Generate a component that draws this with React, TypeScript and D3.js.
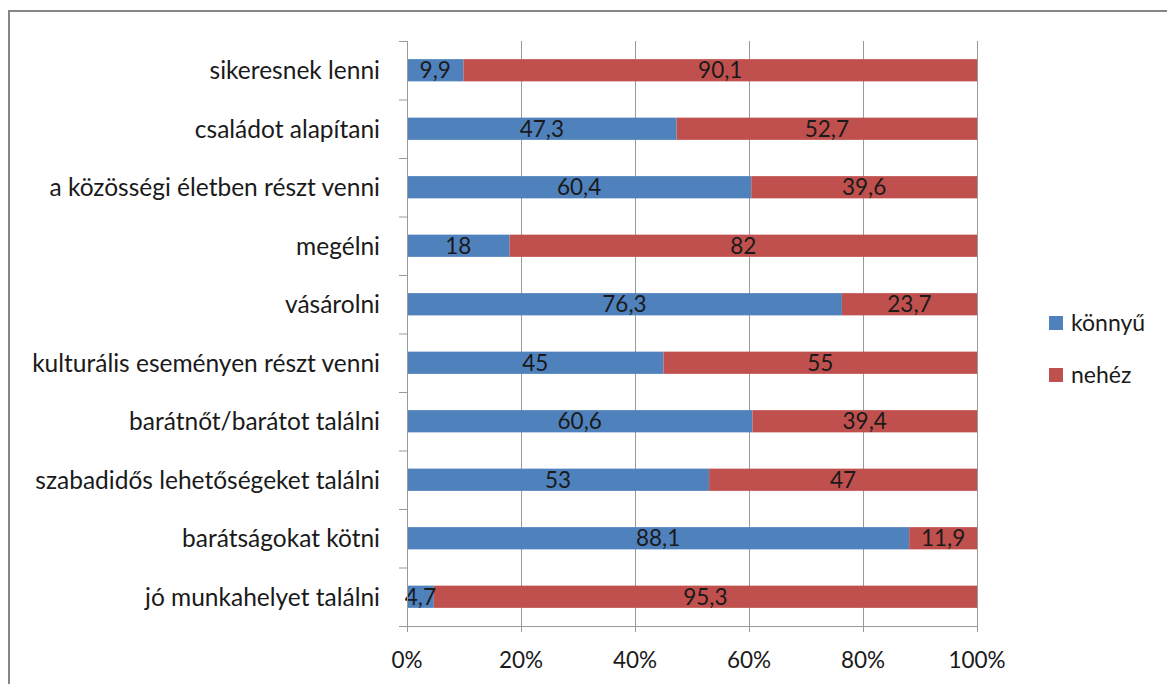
import React from "react";
import * as d3 from "d3";

const categories = [
  "sikeresnek lenni",
  "családot alapítani",
  "a közösségi életben részt venni",
  "megélni",
  "vásárolni",
  "kulturális eseményen részt venni",
  "barátnőt/barátot találni",
  "szabadidős lehetőségeket találni",
  "barátságokat kötni",
  "jó munkahelyet találni",
];
const konnyu = [9.9, 47.3, 60.4, 18, 76.3, 45, 60.6, 53, 88.1, 4.7];
const nehez = [90.1, 52.7, 39.6, 82, 23.7, 55, 39.4, 47, 11.9, 95.3];
const seriesNames = ["könnyű", "nehéz"];
const seriesColors = ["#4F81BD", "#C0504D"];
const xTicks = [0, 20, 40, 60, 80, 100];

const FONT = "Lato, 'Open Sans', sans-serif";

export default function App() {
  const W = 1167, H = 684;
  const left = 407, right = 977, top = 41, bottom = 626;
  const x = d3.scaleLinear().domain([0, 100]).range([left, right]);
  const y = d3.scaleBand<string>().domain(categories).range([top, bottom]).paddingInner(0.62).paddingOuter(0.31);
  const yb = d3.scaleBand<string>().domain(categories).range([top, bottom]);
  const fmt = (v: number) => String(v).replace(".", ",");
  const gridColor = "#9a9a9a";
  const textColor = "#1a1a1a";
  return (
    <svg width={W} height={H} style={{ position: "absolute", left: 0, top: 0 }}>
      <rect x={0} y={0} width={W} height={H} fill="#fff" />
      <rect x={9} y={11} width={W + 20} height={H + 20} fill="#fff" stroke="#868686" strokeWidth={2} />
      {xTicks.map((t) => (
        <line key={"g" + t} x1={x(t) + 0.5} x2={x(t) + 0.5} y1={top} y2={bottom + 6} stroke={gridColor} strokeWidth={1} />
      ))}
      {categories.map((c) => (
        <line key={"yt" + c} x1={left - 8} x2={left} y1={yb(c)! + 0.5} y2={yb(c)! + 0.5} stroke={gridColor} />
      ))}
      <line x1={left - 8} x2={right} y1={bottom + 0.5} y2={bottom + 0.5} stroke={gridColor} />
      {categories.map((c, i) => {
        const yy = y(c)!;
        const h = y.bandwidth();
        const a = konnyu[i], b = nehez[i];
        return (
          <g key={"b" + c}>
            <rect x={x(0)} y={yy} width={x(a) - x(0)} height={h} fill={seriesColors[0]} />
            <rect x={x(a)} y={yy} width={x(a + b) - x(a)} height={h} fill={seriesColors[1]} />
            <text x={(x(0) + x(a)) / 2} y={yy + h / 2} dy="0.36em" textAnchor="middle" fontFamily={FONT} fontSize={22.5} fill={textColor}>{fmt(a)}</text>
            <text x={(x(a) + x(a + b)) / 2} y={yy + h / 2} dy="0.36em" textAnchor="middle" fontFamily={FONT} fontSize={22.5} fill={textColor}>{fmt(b)}</text>
          </g>
        );
      })}
      <line x1={left + 0.5} x2={left + 0.5} y1={top} y2={bottom} stroke={gridColor} />
      {categories.map((c) => (
        <text key={"l" + c} x={380} y={yb(c)! + yb.bandwidth() / 2} dy="0.36em" textAnchor="end" fontFamily={FONT} fontSize={24.5} fill={textColor}>{c}</text>
      ))}
      {xTicks.map((t) => (
        <text key={"xl" + t} x={x(t)} y={668} textAnchor="middle" fontFamily={FONT} fontSize={22.5} fill={textColor}>{t + "%"}</text>
      ))}
      {seriesNames.map((s, i) => (
        <g key={"lg" + s}>
          <rect x={1049} y={316 + i * 52} width={14} height={14} fill={seriesColors[i]} />
          <text x={1071} y={323 + i * 52} dy="0.36em" fontFamily={FONT} fontSize={23} fill={textColor}>{s}</text>
        </g>
      ))}
    </svg>
  );
}
